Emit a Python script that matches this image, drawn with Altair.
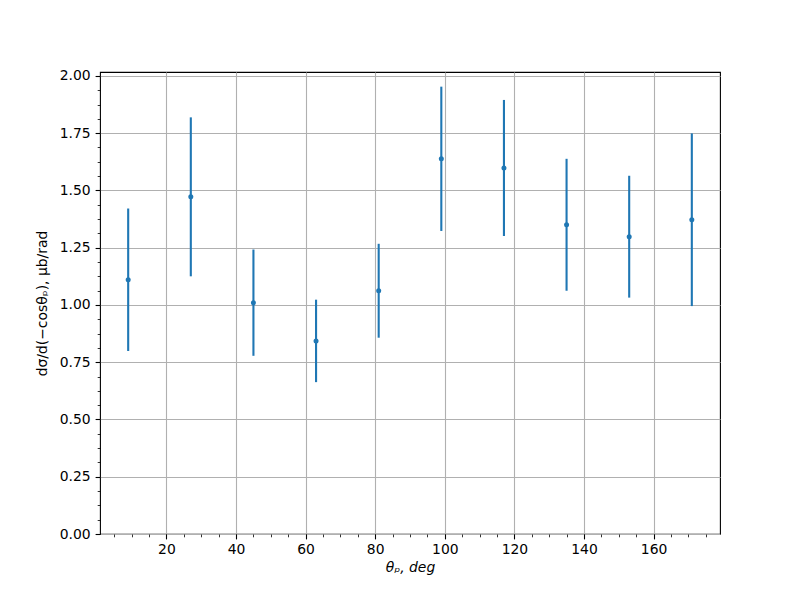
import altair as alt
import pandas as pd

theta = [9, 27, 45, 63, 81, 99, 117, 135, 153, 171]
dsigma = [1.11, 1.472, 1.01, 0.843, 1.062, 1.638, 1.598, 1.350, 1.298, 1.372]
err = [0.311, 0.347, 0.232, 0.180, 0.205, 0.315, 0.297, 0.288, 0.266, 0.377]

x_major = [20, 40, 60, 80, 100, 120, 140, 160]
x_minor = list(range(5, 180, 5))
y_major = [0.0, 0.25, 0.5, 0.75, 1.0, 1.25, 1.5, 1.75, 2.0]
y_minor = [i * 0.0625 for i in range(0, 33)]

df = pd.DataFrame({"theta": theta, "y": dsigma, "err": err})

FONT = "DejaVu Sans"
BLUE = "#1f77b4"
xscale = alt.Scale(domain=[0.9, 179.1], nice=False, zero=False)
yscale = alt.Scale(domain=[0, 2.017], nice=False, zero=False)

x_axis = alt.Axis(values=x_major, title="θₚ, deg", titleFontStyle="italic",
                  grid=True, gridColor="#b0b0b0", gridWidth=1.1,
                  tickSize=4.9, tickWidth=1.1, tickColor="black",
                  domain=False, labelPadding=4, labelFont=FONT, labelFontSize=13.9,
                  labelColor="black", titleFont=FONT, titleFontSize=13.9,
                  titleFontWeight="normal", titleColor="black", titlePadding=4,
                  orient="bottom")
y_axis = alt.Axis(values=y_major, format=".2f", title="dσ/d(−cosθₚ), μb/rad",
                  grid=True, gridColor="#b0b0b0", gridWidth=1.1,
                  tickSize=4.9, tickWidth=1.1, tickColor="black",
                  domain=False, labelPadding=4.9, labelFont=FONT, labelFontSize=13.9,
                  labelColor="black", titleFont=FONT, titleFontSize=13.9,
                  titleFontWeight="normal", titleColor="black", titlePadding=10,
                  orient="left")

x_minor_axis = alt.Axis(values=x_minor, labels=False, title=None, grid=False,
                        tickSize=2.8, tickWidth=0.8, tickColor="black", domain=False,
                        orient="bottom")
y_minor_axis = alt.Axis(values=y_minor, labels=False, title=None, grid=False,
                        tickSize=2.8, tickWidth=0.8, tickColor="black", domain=False,
                        orient="left")

base = alt.Chart(df)

bars = base.transform_calculate(
    lo="datum.y - datum.err", hi="datum.y + datum.err"
).mark_rule(color=BLUE, strokeWidth=2.1).encode(
    x=alt.X("theta:Q", scale=xscale, axis=x_axis),
    y=alt.Y("lo:Q", scale=yscale, axis=y_axis),
    y2="hi:Q",
)

points = base.mark_circle(color=BLUE, opacity=1, size=25).encode(
    x=alt.X("theta:Q", scale=xscale, axis=x_minor_axis),
    y=alt.Y("y:Q", scale=yscale, axis=y_minor_axis),
)

chart = alt.layer(bars, points).resolve_axis(x="independent", y="independent").properties(
    width=620, height=462,
    autosize=alt.AutoSizeParams(type="none"),
    padding={"left": 92, "top": 64, "right": 72, "bottom": 58},
    background="white",
).configure_view(stroke="black", strokeWidth=1.1)

chart.save("out.html", embed_options={"renderer": "svg", "actions": False})
